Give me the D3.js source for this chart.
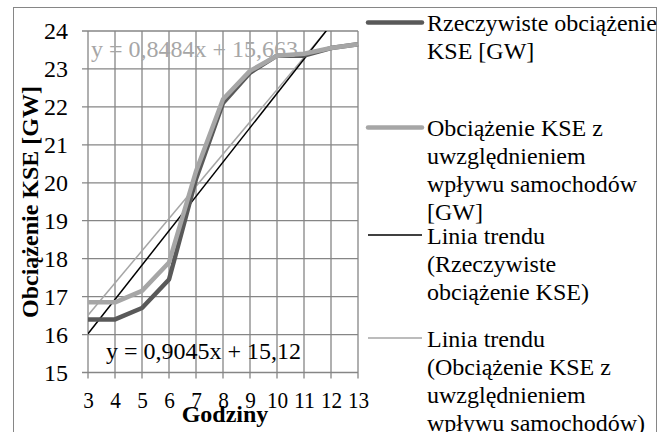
<!DOCTYPE html>
<html>
<head>
<meta charset="utf-8">
<script src="https://cdn.jsdelivr.net/npm/d3@7"></script>
<style>
  html, body { margin: 0; padding: 0; background: #fff; }
  svg { display: block; }
  text { font-family: "Liberation Serif", "Times New Roman", serif; }
</style>
</head>
<body>
<svg id="chart" width="666" height="432"></svg>
<script>
// ---- data ----
const hours = [3, 4, 5, 6, 7, 8, 9, 10, 11, 12, 13];
const realLoad = [16.4, 16.4, 16.7, 17.45, 20.1, 22.1, 22.9, 23.35, 23.35, 23.55, 23.65];
const carLoad  = [16.85, 16.85, 17.15, 17.9, 20.3, 22.2, 22.95, 23.35, 23.4, 23.55, 23.65];
// trend line endpoints (at hour 3 and hour 13)
const trendX = [3, 13];
const trendReal = [16.02, 25.07];
const trendCar  = [16.51, 25.0];
const yTicks = [15, 16, 17, 18, 19, 20, 21, 22, 23, 24];
const xTicks = [3, 4, 5, 6, 7, 8, 9, 10, 11, 12, 13];
const eqReal = "y = 0,9045x + 15,12";
const eqCar = "y = 0,8484x + 15,663";
const yTitle = "Obciążenie KSE [GW]";
const xTitle = "Godziny";
const legendItems = [
  { lines: ["Rzeczywiste obciążenie", "KSE [GW]"], color: "#595959", width: 4.5 },
  { lines: ["Obciążenie KSE z", "uwzględnieniem", "wpływu samochodów", "[GW]"], color: "#a6a6a6", width: 4.5 },
  { lines: ["Linia trendu", "(Rzeczywiste", "obciążenie KSE)"], color: "#000000", width: 1.5 },
  { lines: ["Linia trendu", "(Obciążenie KSE z", "uwzględnieniem", "wpływu samochodów)"], color: "#a6a6a6", width: 1.5 }
];

// ---- layout ----
const svg = d3.select("#chart");
const L = 88, R = 358, T = 31, B = 372.5;
const x = d3.scaleLinear().domain([3, 13]).range([L, R]);
const y = d3.scaleLinear().domain([15, 24]).range([B, T]);
const gridColor = "#868686";
const FS = 24;

// outer border
svg.append("rect").attr("x", 13.5).attr("y", 7.5).attr("width", 643).attr("height", 440)
  .attr("fill", "none").attr("stroke", gridColor).attr("stroke-width", 1);

// clip
svg.append("clipPath").attr("id", "plotclip").append("rect")
  .attr("x", L).attr("y", T).attr("width", R - L).attr("height", B - T);

// grid
const g = svg.append("g");
g.selectAll("line.h").data(yTicks).enter().append("line")
  .attr("x1", L - 6).attr("x2", R).attr("y1", d => y(d)).attr("y2", d => y(d))
  .attr("stroke", gridColor).attr("stroke-width", 1.3);
g.selectAll("line.v").data(xTicks).enter().append("line")
  .attr("x1", d => x(d)).attr("x2", d => x(d)).attr("y1", T).attr("y2", B + 6)
  .attr("stroke", gridColor).attr("stroke-width", 1.3);

// axes labels
const yAxis = d3.axisLeft(y).tickValues(yTicks).tickSize(0).tickPadding(20);
const ya = svg.append("g").attr("transform", `translate(${L},0)`).call(yAxis);
ya.select(".domain").remove();
ya.selectAll("text").attr("font-size", FS).attr("font-family", "Liberation Serif").attr("fill", "#000");

const xAxis = d3.axisBottom(x).tickValues(xTicks).tickSize(0).tickPadding(18);
const xa = svg.append("g").attr("transform", `translate(0,${B})`).call(xAxis);
xa.select(".domain").remove();
xa.selectAll("text").attr("font-size", FS).attr("font-family", "Liberation Serif").attr("fill", "#000")
  .attr("textLength", d => String(d).length * 10.6).attr("lengthAdjust", "spacingAndGlyphs");

// trend lines
const line = d3.line().x(d => x(d[0])).y(d => y(d[1]));
const plot = svg.append("g").attr("clip-path", "url(#plotclip)");
plot.append("path").datum(trendX.map((h, i) => [h, trendCar[i]]))
  .attr("d", line).attr("fill", "none").attr("stroke", "#a6a6a6").attr("stroke-width", 1.5);
plot.append("path").datum(trendX.map((h, i) => [h, trendReal[i]]))
  .attr("d", line).attr("fill", "none").attr("stroke", "#000").attr("stroke-width", 1.5);

// series
svg.append("path").datum(hours.map((h, i) => [h, realLoad[i]]))
  .attr("d", line).attr("fill", "none").attr("stroke", "#595959").attr("stroke-width", 4.5)
  .attr("stroke-linejoin", "round");
svg.append("path").datum(hours.map((h, i) => [h, carLoad[i]]))
  .attr("d", line).attr("fill", "none").attr("stroke", "#a6a6a6").attr("stroke-width", 4.5)
  .attr("stroke-linejoin", "round");

// equations
svg.append("text").attr("x", 91).attr("y", 57).attr("font-size", FS).attr("fill", "#a6a6a6").text(eqCar);
svg.append("text").attr("x", 106).attr("y", 359).attr("font-size", FS).attr("fill", "#000").text(eqReal);

// axis titles
svg.append("text").attr("transform", "translate(38,202) rotate(-90)")
  .attr("text-anchor", "middle").attr("font-size", FS).attr("font-weight", "bold").text(yTitle);
svg.append("text").attr("x", 225).attr("y", 422)
  .attr("text-anchor", "middle").attr("font-size", FS).attr("font-weight", "bold").text(xTitle);

// legend
const legendY = [22.5, 127.5, 235, 338];
const lg = svg.append("g");
legendItems.forEach((item, i) => {
  const cy = legendY[i];
  lg.append("line").attr("x1", 368).attr("x2", 422).attr("y1", cy).attr("y2", cy)
    .attr("stroke", item.color).attr("stroke-width", item.width)
    .attr("stroke-linecap", item.width > 2 ? "round" : "butt");
  const t = lg.append("text").attr("x", 427).attr("y", cy + 8.5).attr("font-size", FS).attr("fill", "#000");
  item.lines.forEach((s, j) => {
    t.append("tspan").attr("x", 427).attr("y", cy + 8.5 + j * 28).text(s);
  });
});
</script>
</body>
</html>
